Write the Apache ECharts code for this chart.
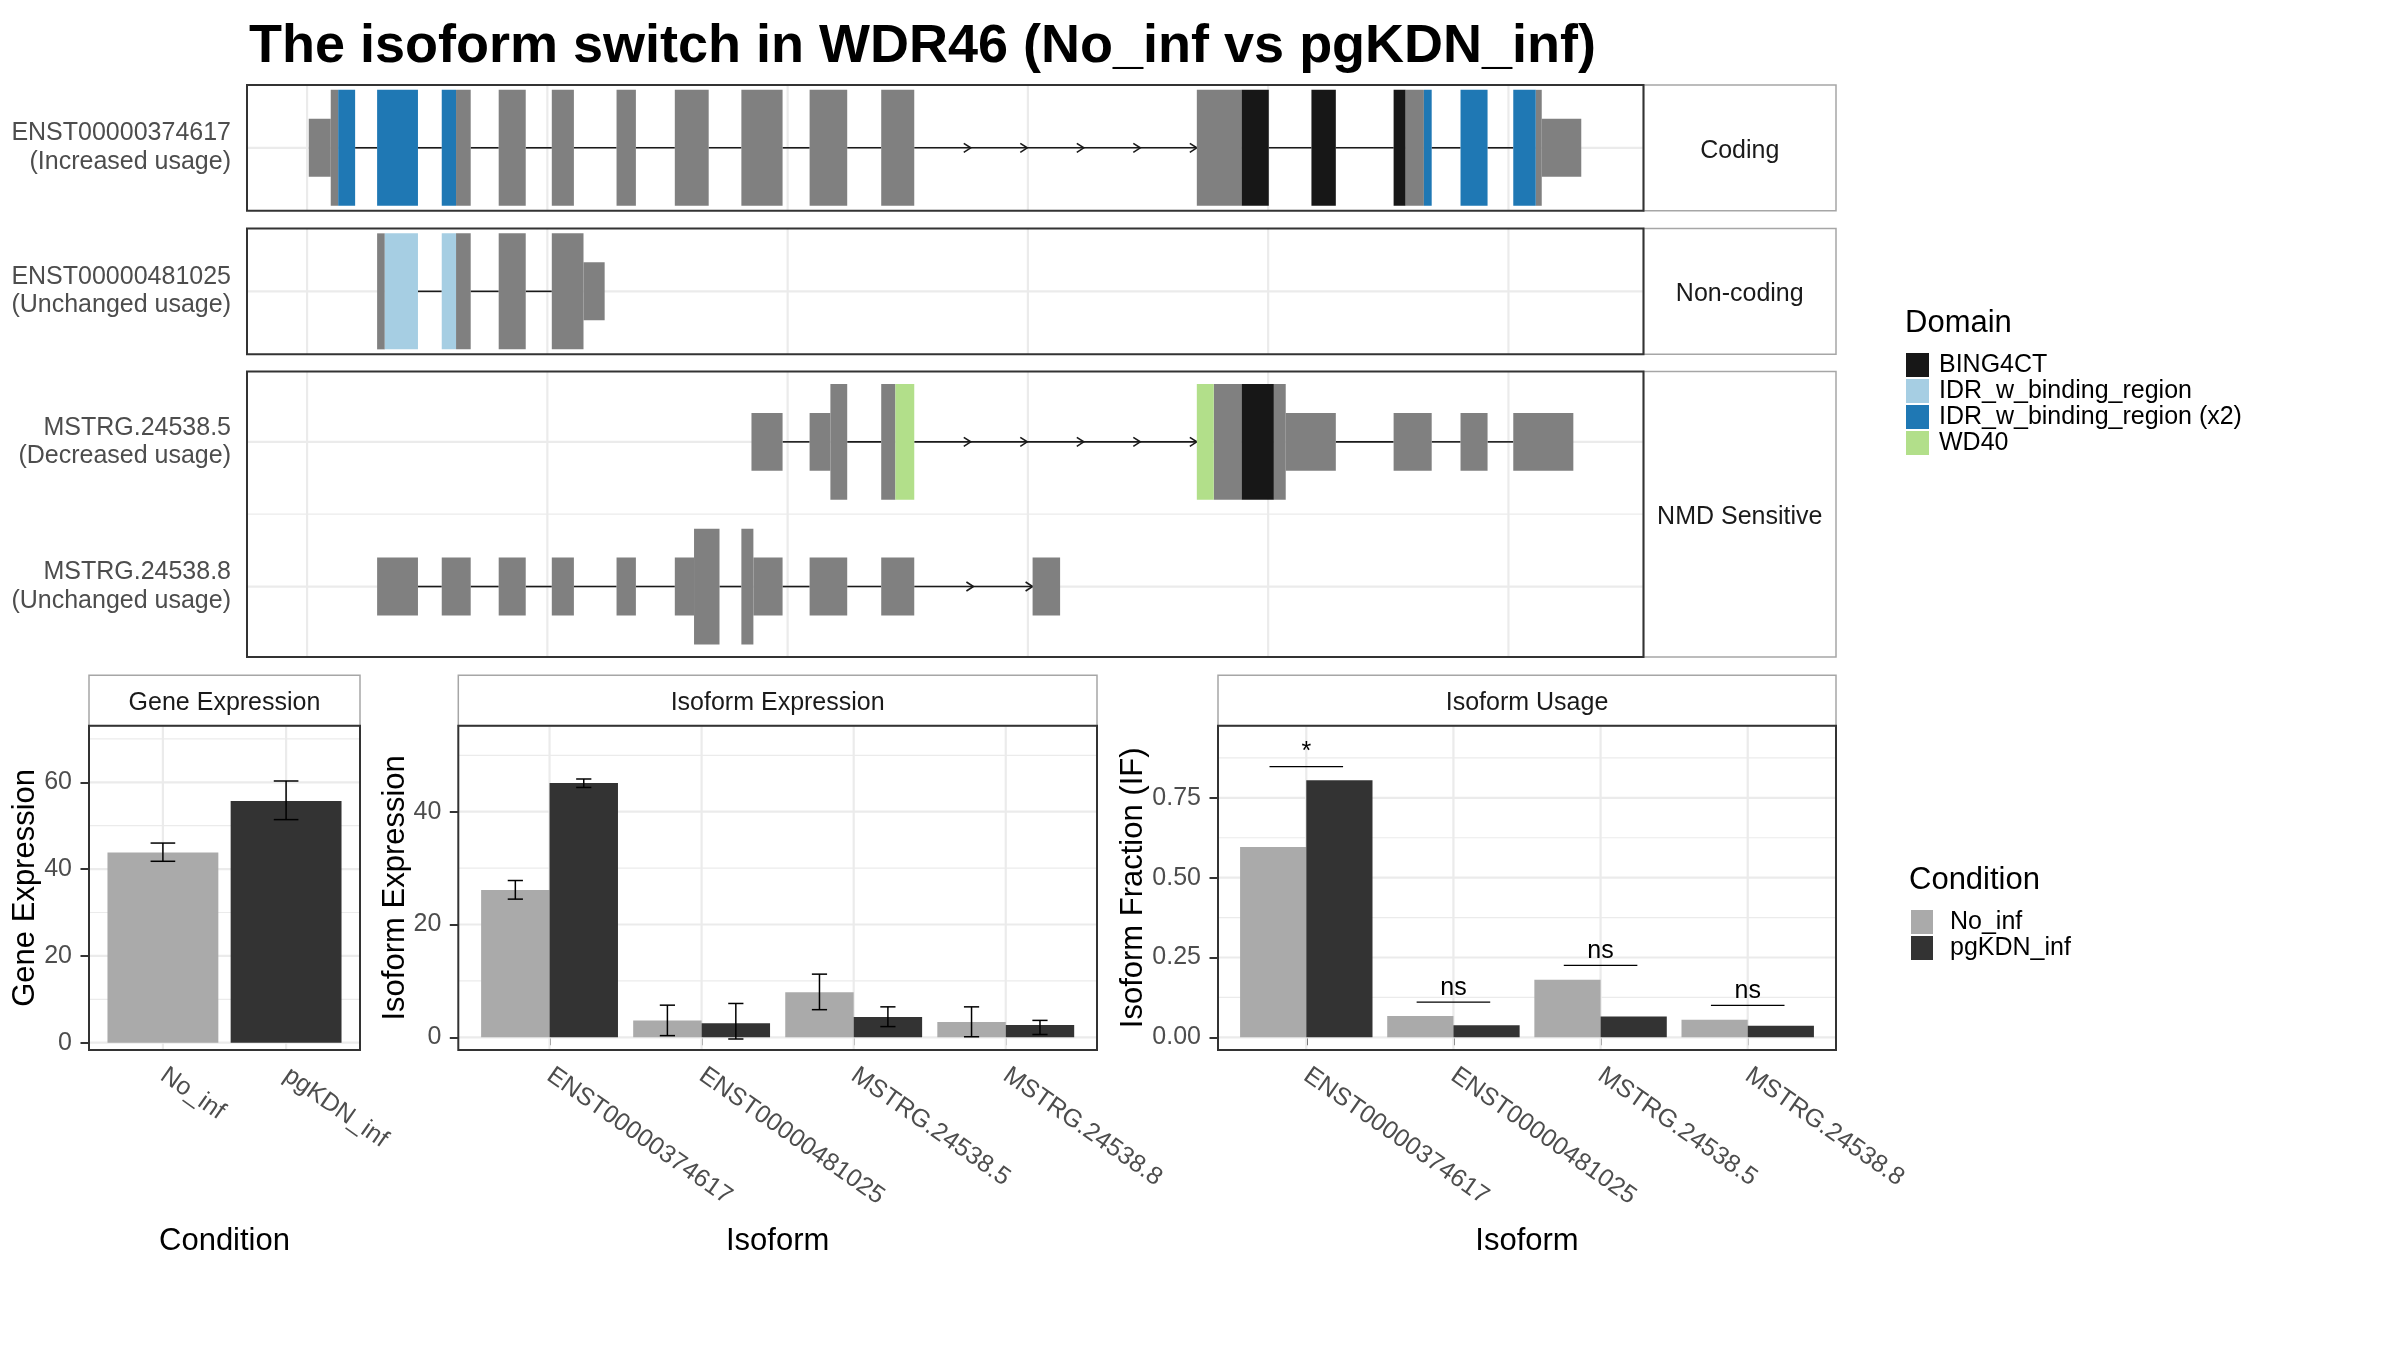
<!DOCTYPE html>
<html>
<head>
<meta charset="utf-8">
<script src="https://cdn.jsdelivr.net/npm/echarts@6/dist/echarts.min.js"></script>
<style>html,body{margin:0;padding:0;background:#fff}#c{width:2400px;height:1350px}</style>
</head>
<body>
<div id="c"></div>
<script>
// ================= DATA =================
const chartTitle = 'The isoform switch in WDR46 (No_inf vs pgKDN_inf)';
const isoforms = ['ENST00000374617', 'ENST00000481025', 'MSTRG.24538.5', 'MSTRG.24538.8'];
const isoformUsageNote = ['(Increased usage)', '(Unchanged usage)', '(Decreased usage)', '(Unchanged usage)'];
const isoformClass = ['Coding', 'Non-coding', 'NMD Sensitive', 'NMD Sensitive'];
const classPanels = ['Coding', 'Non-coding', 'NMD Sensitive'];
const transcriptRow = [1, 1, 2, 1];          // row inside its class panel

// exon pieces: [start, end, part]  part: 'utr' | 'cds' | domain name
const exonsT1 = [
  [14, 197, 'utr'], [197, 259, 'cds'], [259, 400, 'IDR_w_binding_region (x2)'],
  [583, 923, 'IDR_w_binding_region (x2)'],
  [1121, 1240, 'IDR_w_binding_region (x2)'], [1240, 1362, 'cds'],
  [1595, 1820, 'cds'], [2037, 2221, 'cds'], [2576, 2737, 'cds'], [3061, 3343, 'cds'],
  [3615, 3958, 'cds'], [4183, 4496, 'cds'], [4779, 5054, 'cds'],
  [7406, 7779, 'cds'], [7779, 8005, 'BING4CT'],
  [8360, 8563, 'BING4CT'],
  [9044, 9143, 'BING4CT'], [9143, 9296, 'cds'], [9296, 9361, 'IDR_w_binding_region (x2)'],
  [9601, 9826, 'IDR_w_binding_region (x2)'],
  [10040, 10227, 'IDR_w_binding_region (x2)'], [10227, 10277, 'cds'], [10277, 10606, 'utr']
];
const exonsT2 = [
  [583, 647, 'cds'], [647, 923, 'IDR_w_binding_region'],
  [1121, 1240, 'IDR_w_binding_region'], [1240, 1362, 'cds'],
  [1595, 1820, 'cds'], [2037, 2301, 'cds'], [2301, 2477, 'utr']
];
const exonsT3 = [
  [3699, 3958, 'utr'], [4183, 4356, 'utr'], [4356, 4496, 'cds'],
  [4779, 4897, 'cds'], [4897, 5054, 'WD40'],
  [7406, 7547, 'WD40'], [7547, 7779, 'cds'], [7779, 8047, 'BING4CT'], [8047, 8146, 'cds'], [8146, 8563, 'utr'],
  [9044, 9361, 'utr'], [9601, 9826, 'utr'], [10040, 10540, 'utr']
];
const exonsT4 = [
  [583, 923, 'utr'], [1121, 1362, 'utr'], [1595, 1820, 'utr'], [2037, 2221, 'utr'], [2576, 2737, 'utr'],
  [3061, 3221, 'utr'], [3221, 3433, 'cds'], [3615, 3715, 'cds'], [3715, 3958, 'utr'],
  [4183, 4496, 'utr'], [4779, 5054, 'utr'], [6039, 6268, 'utr']
];
const transcriptExons = [exonsT1, exonsT2, exonsT3, exonsT4];
const genomicBreaks = [0, 2000, 4000, 6000, 8000, 10000];

const domainNames = ['BING4CT', 'IDR_w_binding_region', 'IDR_w_binding_region (x2)', 'WD40'];
const domainColors = ['#171717', '#a6cee3', '#1f78b4', '#b2df8a'];

const conditions = ['No_inf', 'pgKDN_inf'];
const conditionColors = ['#aaaaaa', '#333333'];

const geneExpr = [43.8, 55.7];
const geneErrLow = [41.8, 51.4];
const geneErrHigh = [46.0, 60.3];

const isoExprNo = [26.1, 3.0, 8.0, 2.7];
const isoExprNoLow = [24.5, 0.3, 4.9, 0.1];
const isoExprNoHigh = [27.8, 5.7, 11.2, 5.4];
const isoExprKd = [45.1, 2.5, 3.6, 2.2];
const isoExprKdLow = [44.3, -0.3, 1.9, 0.5];
const isoExprKdHigh = [45.8, 6.0, 5.4, 3.0];

const usageNo = [0.596, 0.067, 0.180, 0.055];
const usageKd = [0.805, 0.038, 0.065, 0.036];
const sigLabels = ['*', 'ns', 'ns', 'ns'];
const sigY = [0.848, 0.110, 0.225, 0.100];

const geneTicks = [0, 20, 40, 60];
const geneMinor = [10, 30, 50, 70];
const isoExprTicks = [0, 20, 40];
const isoExprMinor = [10, 30, 50];
const usageTicks = [0, 0.25, 0.5, 0.75];
const usageMinor = [0.125, 0.375, 0.625, 0.875];

// ================= LAYOUT / STYLE =================
const FONT = 'Liberation Sans, Arial, sans-serif';
const TICK_COL = '#4d4d4d';
const GRID_COL = '#ebebeb';
const structL = 247, structR = 1643.5, stripR = 1836;
const structTop = [84.9, 228.4, 371.4], structBot = [210.7, 354.3, 657];
const structY = [[0.566, 1.434], [0.566, 1.434], [0.513, 2.487]];
const structX = [-500, 11124];
const botStripTop = 675.3, botTop = 725.7, botBot = 1050;
const botL = [89, 458.3, 1218], botR = [360, 1097, 1836];
const botY = [[-1.68, 73.04], [-2.25, 55.25], [-0.0398, 0.976]];
const botXMax = [2.6, 4.6, 4.6];
const TXT_DY = 3;

function gridRender(params, api) {
  const cs = params.coordSys;
  const o = api.value(0), v = api.value(1), major = api.value(2);
  let shape;
  if (o === 0) { const x = api.coord([v, 0])[0]; shape = {x1: x, y1: cs.y, x2: x, y2: cs.y + cs.height}; }
  else { const y = api.coord([0, v])[1]; shape = {x1: cs.x, y1: y, x2: cs.x + cs.width, y2: y}; }
  return {type: 'line', shape, style: {stroke: GRID_COL, lineWidth: major ? 2.2 : 1.2}};
}
function exonRender(params, api) {
  const s = api.value(0), e = api.value(1), row = api.value(2), tall = api.value(3);
  const h = tall ? 0.4 : 0.2;
  const p0 = api.coord([s, row + h]), p1 = api.coord([e, row - h]);
  return {type: 'rect', shape: {x: p0[0], y: p0[1], width: p1[0] - p0[0], height: p1[1] - p0[1]},
          style: {fill: api.visual('color')}};
}
function intronRender(params, api) {
  const s = api.value(0), e = api.value(1), row = api.value(2);
  const len = e - s;
  const n = len > 700 ? Math.round(len / 470) : 0;
  const a = api.coord([s, row]), b = api.coord([e, row]);
  const children = [{type: 'line', shape: {x1: a[0], y1: a[1], x2: b[0], y2: b[1]}, style: {stroke: '#1a1a1a', lineWidth: 1.6}}];
  for (let i = 1; i <= n; i++) {
    const x = a[0] + (b[0] - a[0]) * i / n;
    children.push({type: 'polyline', shape: {points: [[x - 7, a[1] - 4.5], [x, a[1]], [x - 7, a[1] + 4.5]]},
                   style: {stroke: '#1a1a1a', fill: 'none', lineWidth: 1.6}});
  }
  return {type: 'group', children};
}
function barRender(w) {
  return function (params, api) {
    const x = api.value(0), v = api.value(1);
    const p0 = api.coord([x - w / 2, v]), p1 = api.coord([x + w / 2, 0]);
    return {type: 'rect', shape: {x: p0[0], y: p0[1], width: p1[0] - p0[0], height: p1[1] - p0[1]},
            style: {fill: api.visual('color')}};
  };
}
function errRender(hw) {
  return function (params, api) {
    const x = api.value(0), lo = api.value(1), hi = api.value(2);
    const pl = api.coord([x, lo]), ph = api.coord([x, hi]);
    const xl = api.coord([x - hw, lo])[0], xr = api.coord([x + hw, lo])[0];
    const st = {stroke: '#000', lineWidth: 1.5};
    return {type: 'group', children: [
      {type: 'line', shape: {x1: pl[0], y1: pl[1], x2: ph[0], y2: ph[1]}, style: st},
      {type: 'line', shape: {x1: xl, y1: pl[1], x2: xr, y2: pl[1]}, style: st},
      {type: 'line', shape: {x1: xl, y1: ph[1], x2: xr, y2: ph[1]}, style: st}
    ]};
  };
}
function sigRender(params, api) {
  const x = api.value(0), y = api.value(1);
  const a = api.coord([x - 0.25, y]), b = api.coord([x + 0.25, y]);
  const c = api.coord([x, y]);
  return {type: 'group', children: [
    {type: 'line', shape: {x1: a[0], y1: a[1], x2: b[0], y2: b[1]}, style: {stroke: '#000', lineWidth: 1.3}},
    {type: 'text', x: c[0], y: c[1] - 2, style: {text: sigLabels[params.dataIndex], fill: '#000', font: '25px ' + FONT,
      align: 'center', verticalAlign: 'bottom'}}
  ]};
}

// ================= BUILD =================
const grids = [], xAxes = [], yAxes = [], series = [];
for (let p = 0; p < 3; p++) {
  grids.push({left: structL, top: structTop[p], width: structR - structL, height: structBot[p] - structTop[p]});
  xAxes.push({gridIndex: p, type: 'value', min: structX[0], max: structX[1], show: false});
  const members = isoforms.map((n, i) => i).filter(i => isoformClass[i] === classPanels[p]);
  const rows = members.map(i => transcriptRow[i]);
  yAxes.push({gridIndex: p, type: 'value', min: structY[p][0], max: structY[p][1],
    axisLine: {show: false}, axisTick: {show: false}, splitLine: {show: false},
    axisLabel: {customValues: rows, margin: 16, color: TICK_COL, fontSize: 25, lineHeight: 28.5, fontFamily: FONT,
      padding: [6, 0, 0, 0],
      formatter: v => { const i = members[rows.indexOf(v)]; return isoforms[i] + '\n' + isoformUsageNote[i]; }}});
  // gridlines
  const gl = genomicBreaks.map(v => [0, v, 1]);
  const rs = rows.slice().sort();
  rs.forEach((r, k) => { gl.push([1, r, 1]); if (k > 0) gl.push([1, (r + rs[k - 1]) / 2, 0]); });
  series.push({type: 'custom', name: 'grid' + p, xAxisIndex: p, yAxisIndex: p, z: 1, silent: true, renderItem: gridRender, data: gl});
  // introns
  const introns = [];
  members.forEach(i => {
    const ex = transcriptExons[i];
    for (let k = 1; k < ex.length; k++) if (ex[k][0] > ex[k - 1][1]) introns.push([ex[k - 1][1], ex[k][0], transcriptRow[i]]);
  });
  series.push({type: 'custom', name: 'intron', xAxisIndex: p, yAxisIndex: p, z: 2, silent: true, renderItem: intronRender, data: introns});
  // exon pieces by kind
  const kinds = ['exon'].concat(domainNames);
  kinds.forEach((kind, ki) => {
    const d = [];
    members.forEach(i => transcriptExons[i].forEach(e => {
      const isKind = kind === 'exon' ? (e[2] === 'utr' || e[2] === 'cds') : e[2] === kind;
      if (isKind) d.push([e[0], e[1], transcriptRow[i], e[2] === 'utr' ? 0 : 1]);
    }));
    if (d.length) series.push({type: 'custom', name: kind, xAxisIndex: p, yAxisIndex: p, z: 3, silent: true,
      itemStyle: {color: ki === 0 ? '#808080' : domainColors[ki - 1]}, renderItem: exonRender, data: d});
  });
}

const botNames = [conditions, isoforms, isoforms];
const botTicks = [geneTicks, isoExprTicks, usageTicks];
const botMinor = [geneMinor, isoExprMinor, usageMinor];
for (let b = 0; b < 3; b++) {
  const gi = 3 + b;
  grids.push({left: botL[b], top: botTop, width: botR[b] - botL[b], height: botBot - botTop});
  const cats = botNames[b].map((n, i) => i + 1);
  xAxes.push({gridIndex: gi, type: 'value', min: 0.4, max: botXMax[b],
    axisLine: {show: false}, splitLine: {show: false},
    axisTick: {show: true, customValues: cats, length: 8, lineStyle: {color: '#333', width: 2}},
    axisLabel: {customValues: cats, rotate: -35, margin: 23, color: TICK_COL, fontSize: 25, fontFamily: FONT,
      formatter: v => botNames[b][Math.round(v) - 1]}});
  yAxes.push({gridIndex: gi, type: 'value', min: botY[b][0], max: botY[b][1],
    axisLine: {show: false}, splitLine: {show: false},
    axisTick: {show: true, customValues: botTicks[b], length: 8.5, lineStyle: {color: '#333', width: 2}},
    axisLabel: {customValues: botTicks[b], margin: 17, color: TICK_COL, fontSize: 25, fontFamily: FONT,
      formatter: v => b === 2 ? v.toFixed(2) : String(v)}});
  const gl = cats.map(v => [0, v, 1]).concat(botTicks[b].map(v => [1, v, 1]), botMinor[b].map(v => [1, v, 0]));
  series.push({type: 'custom', name: 'bgrid' + b, xAxisIndex: gi, yAxisIndex: gi, z: 1, silent: true, renderItem: gridRender, data: gl});
}
// gene expression bars
series.push({type: 'custom', name: conditions[0], xAxisIndex: 3, yAxisIndex: 3, z: 3, itemStyle: {color: conditionColors[0]},
  renderItem: barRender(0.9), data: [[1, geneExpr[0]]]});
series.push({type: 'custom', name: conditions[1], xAxisIndex: 3, yAxisIndex: 3, z: 3, itemStyle: {color: conditionColors[1]},
  renderItem: barRender(0.9), data: [[2, geneExpr[1]]]});
series.push({type: 'custom', name: 'err', xAxisIndex: 3, yAxisIndex: 3, z: 4, renderItem: errRender(0.1),
  data: conditions.map((c, i) => [i + 1, geneErrLow[i], geneErrHigh[i]])});
// isoform expression
series.push({type: 'custom', name: conditions[0], xAxisIndex: 4, yAxisIndex: 4, z: 3, itemStyle: {color: conditionColors[0]},
  renderItem: barRender(0.45), data: isoforms.map((n, i) => [i + 1 - 0.225, isoExprNo[i]])});
series.push({type: 'custom', name: conditions[1], xAxisIndex: 4, yAxisIndex: 4, z: 3, itemStyle: {color: conditionColors[1]},
  renderItem: barRender(0.45), data: isoforms.map((n, i) => [i + 1 + 0.225, isoExprKd[i]])});
series.push({type: 'custom', name: 'err', xAxisIndex: 4, yAxisIndex: 4, z: 4, renderItem: errRender(0.05),
  data: isoforms.map((n, i) => [i + 1 - 0.225, isoExprNoLow[i], isoExprNoHigh[i]])
    .concat(isoforms.map((n, i) => [i + 1 + 0.225, isoExprKdLow[i], isoExprKdHigh[i]]))});
// isoform usage
series.push({type: 'custom', name: conditions[0], xAxisIndex: 5, yAxisIndex: 5, z: 3, itemStyle: {color: conditionColors[0]},
  renderItem: barRender(0.45), data: isoforms.map((n, i) => [i + 1 - 0.225, usageNo[i]])});
series.push({type: 'custom', name: conditions[1], xAxisIndex: 5, yAxisIndex: 5, z: 3, itemStyle: {color: conditionColors[1]},
  renderItem: barRender(0.45), data: isoforms.map((n, i) => [i + 1 + 0.225, usageKd[i]])});
series.push({type: 'custom', name: 'sig', xAxisIndex: 5, yAxisIndex: 5, z: 4, renderItem: sigRender,
  data: isoforms.map((n, i) => [i + 1, sigY[i]])});

// ================= GRAPHIC (frames, strips, titles) =================
const graphic = [];
const txt = (x, y, text, size, opt) => Object.assign({type: 'text', x, y: y + TXT_DY, z: 100, silent: true,
  style: Object.assign({text, fill: '#000', font: size + 'px ' + FONT, align: 'center', verticalAlign: 'middle'}, (opt && opt.style) || {})},
  opt && opt.rotation ? {rotation: opt.rotation} : {});
const frame = (x, y, w, h, col, lw) => ({type: 'rect', z: 99, silent: true, shape: {x, y, width: w, height: h},
  style: {fill: 'none', stroke: col, lineWidth: lw}});
graphic.push(txt(249, 44, chartTitle, 54, {style: {align: 'left', font: 'bold 54px ' + FONT}}));
for (let p = 0; p < 3; p++) {
  graphic.push(frame(structR, structTop[p], stripR - structR, structBot[p] - structTop[p], '#a6a6a6', 1.5));
  graphic.push(frame(structL, structTop[p], structR - structL, structBot[p] - structTop[p], '#333333', 2));
  graphic.push(txt((structR + stripR) / 2, (structTop[p] + structBot[p]) / 2, classPanels[p], 25, {style: {fill: '#1a1a1a'}}));
}
const botStripText = ['Gene Expression', 'Isoform Expression', 'Isoform Usage'];
const botXTitle = ['Condition', 'Isoform', 'Isoform'];
const botYTitle = ['Gene Expression', 'Isoform Expression', 'Isoform Fraction (IF)'];
const botYTitleX = [22, 392, 1130];
for (let b = 0; b < 3; b++) {
  graphic.push(frame(botL[b], botStripTop, botR[b] - botL[b], botTop - botStripTop, '#a6a6a6', 1.5));
  graphic.push(frame(botL[b], botTop, botR[b] - botL[b], botBot - botTop, '#333333', 2));
  graphic.push(txt((botL[b] + botR[b]) / 2, (botStripTop + botTop) / 2, botStripText[b], 25, {style: {fill: '#1a1a1a'}}));
  graphic.push(txt((botL[b] + botR[b]) / 2, 1238, botXTitle[b], 31));
  graphic.push(txt(botYTitleX[b] + TXT_DY, (botTop + botBot) / 2 - TXT_DY, botYTitle[b], 31, {rotation: Math.PI / 2}));
}
graphic.push(txt(1905, 320, 'Domain', 31, {style: {align: 'left'}}));
graphic.push(txt(1909, 877, 'Condition', 31, {style: {align: 'left'}}));

const option = {
  animation: false,
  backgroundColor: '#ffffff',
  grid: grids, xAxis: xAxes, yAxis: yAxes, series,
  legend: [
    {data: domainNames, orient: 'vertical', left: 1906, top: 352.5, padding: 0, itemWidth: 23, itemHeight: 24, itemGap: 1,
     icon: 'rect', selectedMode: false, textStyle: {fontSize: 25, lineHeight: 24, fontFamily: FONT, color: '#000', padding: [0, 0, 0, 5]}},
    {data: conditions, orient: 'vertical', left: 1911, top: 909.5, padding: 0, itemWidth: 22, itemHeight: 24, itemGap: 1,
     icon: 'rect', selectedMode: false, textStyle: {fontSize: 25, lineHeight: 24, fontFamily: FONT, color: '#000', padding: [0, 0, 0, 12]}}
  ],
  graphic
};
const chart = echarts.init(document.getElementById('c'), null, {renderer: 'canvas'});
chart.setOption(option);
</script>
</body>
</html>
